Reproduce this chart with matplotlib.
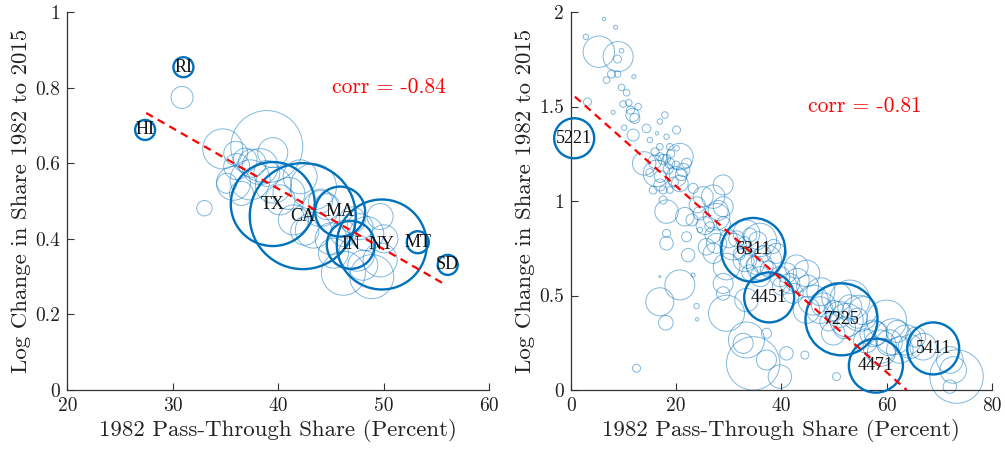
import matplotlib
matplotlib.use("Agg")
import matplotlib.pyplot as plt
import numpy as np

plt.rcParams['font.family'] = ['cmr10', 'DejaVu Serif']
plt.rcParams['axes.unicode_minus'] = False
plt.rcParams['axes.formatter.use_mathtext'] = True

# ---- states (left) ----
st_x = [30.87, 32.99, 34.73, 38.9, 35.96, 39.47, 35.74, 38.27, 36.84, 39.53,
        42.06, 43.32, 41.42, 43.32, 46.16, 48.85, 49.64, 47.43, 48.37, 46.17,
        35.11, 40.16, 38.9, 37.32, 36.05, 44.59, 45.22, 47.74, 49.64,
        41.0, 44.0, 42.5, 45.0, 48.0, 47.0, 37.5, 36.5, 44.0, 50.0]
st_y = [0.774, 0.481, 0.638, 0.644, 0.626, 0.628, 0.547, 0.591, 0.608, 0.542,
        0.564, 0.538, 0.450, 0.423, 0.309, 0.300, 0.459, 0.362, 0.414, 0.414,
        0.547, 0.503, 0.573, 0.556, 0.591, 0.485, 0.362, 0.432, 0.344,
        0.52, 0.48, 0.42, 0.40, 0.33, 0.45, 0.60, 0.52, 0.50, 0.40]
st_wt = [11, 7.7, 20, 36, 12, 15, 17, 18, 12, 18,
         17, 23, 15, 18, 22, 22, 13, 18, 17, 13,
         10, 15, 13, 20, 13, 13, 15, 13, 17,
         16, 18, 14, 16, 15, 13, 14, 12, 12, 14]

st_lab = ['RI', 'HI', 'TX', 'CA', 'MA', 'IN', 'NY', 'MT', 'SD']
st_lab_x = [31.0, 27.37, 39.47, 42.31, 45.85, 46.86, 49.80, 53.21, 56.05]
st_lab_y = [0.854, 0.688, 0.492, 0.460, 0.472, 0.384, 0.385, 0.391, 0.331]
st_lab_wt = [10, 10, 42, 53, 25, 24, 45, 11, 10]

st_fit = (-0.01602, 1.173)
st_fit_x = (27.47, 55.5)
st_corr = -0.84

# ---- industries (right) ----
ind_x = [6.33, 8.49, 2.85, 5.32, 8.99, 9.63, 8.87, 7.73, 8.87, 11.97,
         6.78, 9.63, 10.58, 3.17, 9.94, 11.0, 12.79, 8.04, 11.34, 11.72,
         12.16, 17.86, 16.9, 10.14, 14.37, 20.08, 11.84, 16.34, 18.18, 15.01,
         16.9, 18.81, 20.08, 20.71, 13.93, 15.96, 16.9, 18.2, 18.81, 16.28,
         21.34, 20.08, 15.64, 17.54, 18.81, 16.9, 20.71, 23.24, 25.14, 28.94,
         27.04, 18.18, 21.66, 17.54, 24.51, 28.94, 27.67, 26.41, 18.18, 18.18,
         21.98, 24.51, 22.29, 25.77, 27.67, 30.84, 29.58, 27.04, 33.06, 35.91,
         33.37, 37.17, 35.91, 39.07, 39.71, 42.87, 44.77, 41.6, 16.9, 23.24,
         20.71, 16.9, 18.05, 23.88, 24.0, 28.94, 29.58, 28.94, 33.37, 32.74,
         37.17, 34.64, 37.17, 39.71, 40.97, 44.46, 50.47, 12.48, 33.37, 42.24,
         46.04, 44.77, 47.3, 53.0, 54.9, 52.37, 49.84, 59.97, 61.24, 63.77,
         62.5, 66.94, 72.64, 73.28, 72.0, 72.0, 58.7, 57.45,
         31.5, 33.0, 34.0, 35.5, 36.5, 33.5, 35.0, 37.5, 32.0, 38.5, 36.0, 34.0,
         48.0, 50.0, 51.0, 53.0, 54.5, 49.0, 52.0, 55.5, 50.5, 47.5,
         58.0, 60.5, 62.0, 64.5, 65.5, 59.0, 56.0,
         16.0, 17.5, 19.0, 18.5, 20.0, 17.0, 19.5, 21.0, 15.0, 22.0,
         24.0, 25.5, 27.0, 29.0, 30.0, 23.0, 28.0,
         41.0, 43.0, 40.0, 45.0]
ind_y = [1.963, 1.919, 1.869, 1.790, 1.764, 1.795, 1.751, 1.672, 1.672, 1.658,
         1.640, 1.601, 1.573, 1.524, 1.513, 1.520, 1.499, 1.469, 1.481, 1.455,
         1.437, 1.455, 1.420, 1.388, 1.384, 1.376, 1.349, 1.358, 1.340, 1.323,
         1.287, 1.287, 1.279, 1.235, 1.199, 1.208, 1.235, 1.226, 1.199, 1.146,
         1.164, 1.129, 1.058, 1.058, 1.058, 1.085, 1.093, 1.067, 1.023, 1.085,
         1.023, 0.944, 0.917, 1.005, 0.935, 0.970, 0.917, 0.864, 0.829, 0.776,
         0.811, 0.847, 0.714, 0.758, 0.776, 0.758, 0.653, 0.723, 0.688, 0.794,
         0.829, 0.688, 0.653, 0.723, 0.600, 0.653, 0.617, 0.564, 0.600, 0.608,
         0.556, 0.467, 0.356, 0.444, 0.374, 0.564, 0.406, 0.511, 0.265, 0.247,
         0.300, 0.141, 0.159, 0.071, 0.194, 0.185, 0.071, 0.115, 0.476, 0.511,
         0.476, 0.423, 0.423, 0.476, 0.406, 0.370, 0.300, 0.370, 0.282, 0.265,
         0.212, 0.229, 0.106, 0.071, 0.018, 0.159, 0.229, 0.300,
         0.80, 0.78, 0.82, 0.79, 0.72, 0.68, 0.66, 0.64, 0.72, 0.76, 0.60, 0.62,
         0.45, 0.42, 0.40, 0.44, 0.38, 0.36, 0.33, 0.42, 0.49, 0.52,
         0.30, 0.25, 0.31, 0.23, 0.28, 0.20, 0.26,
         1.26, 1.22, 1.25, 1.17, 1.19, 1.13, 1.10, 1.14, 1.15, 1.20,
         0.98, 0.87, 0.82, 0.88, 0.80, 0.90, 0.95,
         0.62, 0.58, 0.55, 0.55]
ind_wt = [1.7, 2, 2.7, 15.7, 15, 2.3, 4, 4, 3.3, 2,
          3.3, 3.3, 3.3, 4, 3.3, 3.3, 3.3, 2, 4, 6.7,
          5, 3.3, 2.7, 2.7, 4.3, 4, 6, 1.7, 2.7, 2.7,
          3.3, 3.3, 2.7, 13.3, 11.7, 6.7, 4, 4, 5, 13.3,
          6.7, 10, 4, 4, 3.3, 6, 8.3, 5, 10, 10,
          11.7, 11.7, 9.3, 4, 6.7, 10, 13.3, 5, 4, 6.7,
          5, 2.7, 6.7, 8.3, 10, 13.3, 13.3, 10, 11.7, 16.7,
          13.3, 15, 13.3, 10, 10, 11.7, 13.3, 10, 1, 2,
          15, 14, 7.3, 2.7, 1.7, 10, 18, 6.7, 18, 10,
          5, 26.7, 10, 11.7, 6.7, 4, 4, 4, 11.7, 10,
          15, 13.3, 13.3, 20, 18, 16.7, 11.7, 20, 18, 15,
          13.3, 13.3, 13.3, 26.7, 6.7, 13.3, 16.7, 13.3,
          8, 6, 7, 9, 8, 7, 9, 8, 6, 7, 10, 8,
          12, 10, 13, 12, 10, 9, 11, 14, 15, 14,
          12, 13, 11, 12, 10, 14, 12,
          4, 5, 4, 5, 4, 6, 5, 6, 4, 5,
          8, 9, 8, 7, 9, 6, 10,
          10, 12, 9, 11]

ind_lab = ['5221', '6311', '4451', '7225', '4471', '5411']
ind_lab_x = [0.63, 34.64, 37.68, 51.42, 57.95, 68.84]
ind_lab_y = [1.332, 0.741, 0.490, 0.374, 0.129, 0.220]
ind_lab_wt = [20, 32, 25, 36, 27, 26]

ind_fit = (-0.02462, 1.571)
ind_fit_x = (0.76, 63.8)
ind_corr = -0.81

blue = '#0072BD'


def bubble_panel(ax, x, y, wt, lx, ly, lwt, labels, fit, fit_x, corr, corr_xy,
                 xlim, ylim, xticks, yticks):
    px2pt = 72 / 100
    s_light = (2 * np.array(wt) * px2pt) ** 2
    s_dark = (2 * np.array(lwt) * px2pt) ** 2
    ax.scatter(x, y, s=s_light, facecolors='none', edgecolors=blue,
               linewidths=0.7, alpha=0.5, clip_on=False, zorder=2)
    ax.scatter(lx, ly, s=s_dark, facecolors='none', edgecolors=blue,
               linewidths=1.7, clip_on=False, zorder=3)
    fx = np.array(fit_x)
    ax.plot(fx, fit[0] * fx + fit[1], color='red', ls=(0, (3.5, 2.5)),
            lw=1.6, zorder=4)
    for t, a, b in zip(labels, lx, ly):
        ax.text(a, b, t, ha='center', va='center', fontsize=13,
                family=['Liberation Serif'], color='#111111', zorder=5)
    ax.text(corr_xy[0], corr_xy[1], 'corr = %.2f' % corr, color='red',
            fontsize=15.5, ha='left', va='center')
    ax.set_xlim(*xlim)
    ax.set_ylim(*ylim)
    ax.set_xticks(xticks)
    ax.set_yticks(yticks)
    ax.set_xticklabels([('%g' % v) for v in xticks])
    ax.set_yticklabels([('%g' % v) for v in yticks])
    for sp in ['top', 'right']:
        ax.spines[sp].set_visible(False)
    for sp in ['left', 'bottom']:
        ax.spines[sp].set_color('#333333')
        ax.spines[sp].set_linewidth(0.9)
    ax.tick_params(direction='in', length=5, labelsize=14, colors='#333333',
                   labelcolor='#222222', pad=5)
    ax.set_xlabel('1982 Pass-Through Share (Percent)', fontsize=16.5,
                  color='#222222', labelpad=3)
    ax.set_ylabel('Log Change in Share 1982 to 2015', fontsize=16.5,
                  color='#222222', labelpad=3)


fig = plt.figure(figsize=(10.05, 4.5), dpi=100)
ax1 = fig.add_axes([0.067, 0.1333, 0.420, 0.84])
ax2 = fig.add_axes([0.568, 0.1333, 0.419, 0.84])

bubble_panel(ax1, st_x, st_y, st_wt, st_lab_x, st_lab_y, st_lab_wt, st_lab,
             st_fit, st_fit_x, st_corr, (45.06, 0.80),
             (20, 60), (0, 1), [20, 30, 40, 50, 60], [0, 0.2, 0.4, 0.6, 0.8, 1])
bubble_panel(ax2, ind_x, ind_y, ind_wt, ind_lab_x, ind_lab_y, ind_lab_wt,
             ind_lab, ind_fit, ind_fit_x, ind_corr, (45.1, 1.503),
             (0, 80), (0, 2), [0, 20, 40, 60, 80], [0, 0.5, 1, 1.5, 2])

fig.savefig('out.png', dpi=100)
